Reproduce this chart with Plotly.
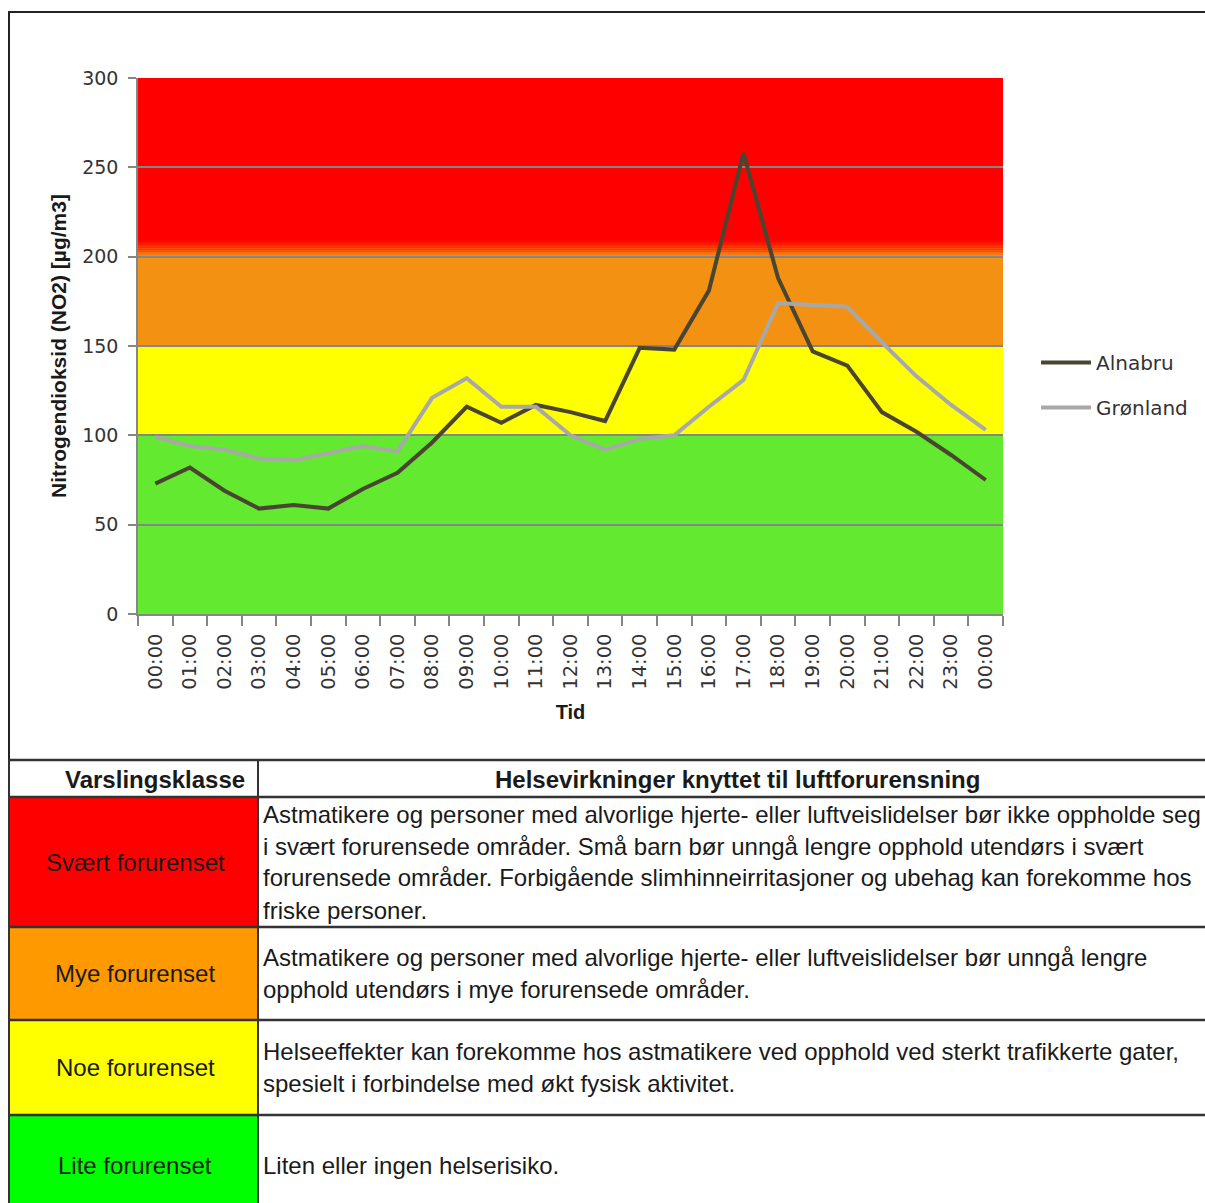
import plotly.graph_objects as go

# ---------------- data ----------------
hours = ["00:00", "01:00", "02:00", "03:00", "04:00", "05:00", "06:00", "07:00",
         "08:00", "09:00", "10:00", "11:00", "12:00", "13:00", "14:00", "15:00",
         "16:00", "17:00", "18:00", "19:00", "20:00", "21:00", "22:00", "23:00", "00:00"]
alnabru = [73, 82, 69, 59, 61, 59, 70, 79, 96, 116, 107, 117, 113, 108, 149, 148,
           181, 258, 188, 147, 139, 113, 102, 89, 75]
gronland = [99, 94, 92, 87, 86, 90, 94, 91, 121, 132, 116, 116, 100, 92, 98, 100,
            116, 131, 174, 173, 172, 152, 133, 117, 103]

band_edges = [0, 100, 150, 200, 300]
band_colors = ["#62E930", "#FFFF00", "#F39212", "#FF0000"]

classes = ["Svært forurenset", "Mye forurenset", "Noe forurenset", "Lite forurenset"]
class_colors = ["#FF0000", "#FF9900", "#FFFF00", "#00FF00"]
effects = [
    ["Astmatikere og personer med alvorlige hjerte- eller luftveislidelser bør ikke oppholde seg",
     "i svært forurensede områder. Små barn bør unngå lengre opphold utendørs i svært",
     "forurensede områder. Forbigående slimhinneirritasjoner og ubehag kan forekomme hos",
     "friske personer."],
    ["Astmatikere og personer med alvorlige hjerte- eller luftveislidelser bør unngå lengre",
     "opphold utendørs i mye forurensede områder."],
    ["Helseeffekter kan forekomme hos astmatikere ved opphold ved sterkt trafikkerte gater,",
     "spesielt i forbindelse med økt fysisk aktivitet."],
    ["Liten eller ingen helserisiko."],
]
header_left = "Varslingsklasse"
header_right = "Helsevirkninger knyttet til luftforurensning"

# ---------------- layout geometry (pixels) ----------------
W, H = 1205, 1203
L, R, T, B = 138, 1003, 78, 614


def px(x):
    return (x - L) / (R - L)


def py(y):
    return (B - y) / (B - T)


xs = list(range(len(hours)))

fig = go.Figure()
fig.add_trace(go.Scatter(x=xs, y=alnabru, mode="lines", name="Alnabru",
                         line=dict(color="#4A4530", width=4), legendgroup="a"))
fig.add_trace(go.Scatter(x=xs, y=gronland, mode="lines", name="Grønland",
                         line=dict(color="#A8A8A8", width=4), legendgroup="g"))

shapes = []
# coloured bands behind the chart
for i, c in enumerate(band_colors):
    shapes.append(dict(type="rect", xref="paper", yref="y", x0=0, x1=1,
                       y0=band_edges[i], y1=band_edges[i + 1], fillcolor=c,
                       line=dict(width=0), layer="below"))
# soft blend from orange into red just above 200
o = (0xF3, 0x92, 0x12)
r = (0xFF, 0x00, 0x00)
nstrip = 9
for k in range(nstrip):
    t = (k + 0.5) / nstrip
    col = "rgb(%d,%d,%d)" % tuple(int(o[j] + (r[j] - o[j]) * t) for j in range(3))
    shapes.append(dict(type="rect", xref="paper", yref="y", x0=0, x1=1,
                       y0=band_edges[3] + k, y1=band_edges[3] + k + 1, fillcolor=col,
                       line=dict(width=0), layer="below"))

# outer chart frame
shapes.append(dict(type="rect", xref="paper", yref="paper", x0=px(9), x1=px(1215),
                   y0=py(760), y1=py(12), line=dict(color="#222222", width=2)))

# table
row_edges = [760, 797, 927, 1020, 1115, 1215]
col_x = [9, 258, 1215]
for i, c in enumerate(class_colors):
    shapes.append(dict(type="rect", xref="paper", yref="paper", x0=px(col_x[0]), x1=px(col_x[1]),
                       y0=py(row_edges[i + 2]), y1=py(row_edges[i + 1]), fillcolor=c,
                       line=dict(width=0)))
for yy in row_edges[:-1]:
    shapes.append(dict(type="line", xref="paper", yref="paper", x0=px(col_x[0]), x1=px(col_x[2]),
                       y0=py(yy), y1=py(yy), line=dict(color="#333333", width=2.5)))
for xx in col_x[:2]:
    shapes.append(dict(type="line", xref="paper", yref="paper", x0=px(xx), x1=px(xx),
                       y0=py(row_edges[0]), y1=py(row_edges[-1]), line=dict(color="#333333", width=2)))

annotations = []
tf = dict(family="Liberation Sans, Arial, sans-serif", size=24, color="#1a1a1a")
annotations.append(dict(text="<b>%s</b>" % header_left, xref="paper", yref="paper",
                        x=px(247), y=py(779), xanchor="right", yanchor="middle",
                        showarrow=False, font=tf))
annotations.append(dict(text="<b>%s</b>" % header_right, xref="paper", yref="paper",
                        x=px(737), y=py(779), xanchor="center", yanchor="middle",
                        showarrow=False, font=tf))
line_gap = 32
for i, lines in enumerate(effects):
    top, bot = row_edges[i + 1], row_edges[i + 2]
    mid = (top + bot) / 2
    annotations.append(dict(text=classes[i], xref="paper", yref="paper",
                            x=px(135), y=py(mid), xanchor="center", yanchor="middle",
                            showarrow=False, font=tf))
    n = len(lines)
    for j, ln in enumerate(lines):
        yc = mid + (j - (n - 1) / 2) * line_gap
        annotations.append(dict(text=ln, xref="paper", yref="paper",
                                x=px(261), y=py(yc), xanchor="left", yanchor="middle",
                                showarrow=False, font=tf))

axis_col = "#868686"
fig.update_layout(
    width=W, height=H, autosize=False,
    margin=dict(l=L, r=W - R, t=T, b=H - B, pad=0),
    paper_bgcolor="white", plot_bgcolor="white",
    shapes=shapes, annotations=annotations,
    showlegend=True,
    legend=dict(x=px(1036), y=py(343), xanchor="left", yanchor="top",
                font=dict(family="DejaVu Sans", size=20, color="#333333"),
                itemwidth=50,
                tracegroupgap=16, bgcolor="rgba(0,0,0,0)"),
    xaxis=dict(range=[-0.5, len(hours) - 0.5], tickmode="array", tickvals=xs, ticktext=hours,
               tickangle=-90, ticks="outside", ticklen=10, tickcolor="rgba(0,0,0,0)",
               showgrid=False, zeroline=False, showline=True, linecolor=axis_col, linewidth=1.5,
               tickfont=dict(family="DejaVu Sans", size=19.5, color="#333333"),
               minor=dict(tickmode="array", tickvals=[v - 0.5 for v in range(len(hours) + 1)],
                          ticks="outside", ticklen=10, tickcolor=axis_col, tickwidth=1.5,
                          showgrid=False),
               title=dict(text="<b>Tid</b>", standoff=16,
                          font=dict(family="Liberation Sans, Arial", size=20, color="#1a1a1a"))),
    yaxis=dict(range=[0, 300], tickmode="linear", tick0=0, dtick=50,
               showgrid=True, gridcolor=axis_col, gridwidth=1.5,
               ticks="outside", ticklen=8, tickcolor=axis_col, tickwidth=1.5,
               zeroline=False, showline=True, linecolor=axis_col, linewidth=1.5,
               ticklabelstandoff=6,
               tickfont=dict(family="DejaVu Sans", size=19, color="#333333"),
               title=dict(text="<b>Nitrogendioksid (NO2) [µg/m3]</b>", standoff=10,
                          font=dict(family="Liberation Sans, Arial", size=21, color="#1a1a1a"))),
)

fig.write_html("out.html", config={"displayModeBar": False},
               post_script="document.body.style.margin='0px';document.body.style.overflow='hidden';")
